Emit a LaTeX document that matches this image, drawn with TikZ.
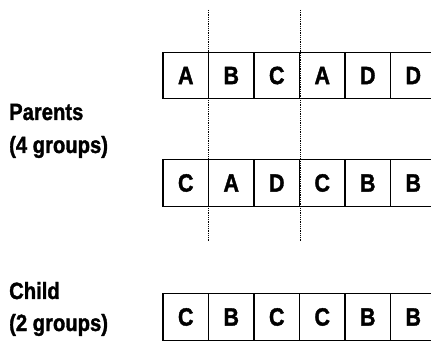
\documentclass[tikz,border=0pt]{standalone}
\usepackage{fontspec}
\setmainfont{Liberation Sans}[BoldFeatures={FakeBold=1.6}]
\newcommand{\condtxt}[1]{\scalebox{0.86}[1]{#1}}
\begin{document}
\begin{tikzpicture}[x=1pt,y=-1pt,
  cell/.style={draw=black,line width=1.1pt,minimum width=45.5pt,minimum height=46.5pt,inner sep=0pt,outer sep=0pt,
    font=\bfseries\fontsize{25}{25}\selectfont},
  lbl/.style={anchor=base west,inner sep=0pt,font=\bfseries\fontsize{23.5}{24}\selectfont},
  cut/.style={draw=black,line width=1pt,dash pattern=on 1pt off 0.8pt}]
\useasboundingbox (0,0) rectangle (431,347);
% row 1
\foreach \l [count=\i from 0] in {A,B,C,A,D,D}
  \node[cell] (r1c\i) at (185.75+45.5*\i,75.5) {\condtxt{\l}};
% row 2
\foreach \l [count=\i from 0] in {C,A,D,C,B,B}
  \node[cell] (r2c\i) at (185.75+45.5*\i,183) {\condtxt{\l}};
% row 3
\foreach \l [count=\i from 0] in {C,B,C,C,B,B}
  \node[cell] (r3c\i) at (185.75+45.5*\i,317) {\condtxt{\l}};
% cut lines
\coordinate (cut1t) at (208.5,10);
\coordinate (cut1b) at (208.5,242);
\coordinate (cut2t) at (300,10);
\coordinate (cut2b) at (300,242);
\draw[cut] (cut1t) -- (cut1b);
\draw[cut] (cut2t) -- (cut2b);
% labels
\node[lbl] (parents) at (9,120) {\condtxt{Parents}};
\node[lbl] (pgroups) at (9,153) {\condtxt{(4 groups)}};
\node[lbl] (child) at (9,299) {\condtxt{Child}};
\node[lbl] (cgroups) at (9,331) {\condtxt{(2 groups)}};
\end{tikzpicture}
\end{document}
